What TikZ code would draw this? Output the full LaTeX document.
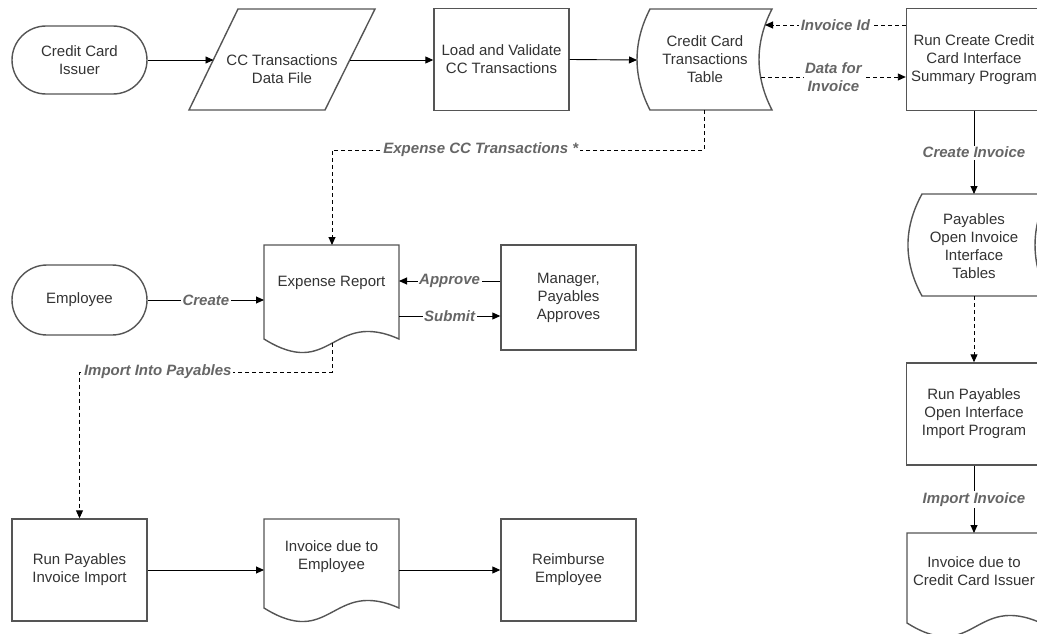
\documentclass[tikz,border=0pt]{standalone}
\usepackage{fontspec}
\setmainfont{Liberation Sans}
\usetikzlibrary{arrows.meta,shapes.misc}
\definecolor{boxline}{HTML}{555555}
\definecolor{txtgray}{HTML}{333333}
\definecolor{lblgray}{HTML}{666666}
\begin{document}
\begin{tikzpicture}[x=1pt,y=-1pt,
  font=\fontsize{15}{18}\selectfont,
  shp/.style={draw=boxline,line width=1.4pt,fill=white},
  procbox/.style={shp,rectangle,minimum width=135pt,minimum height=102pt,align=center,text=txtgray,inner sep=0pt},
  termbox/.style={shp,rounded rectangle,minimum width=135pt,minimum height=70pt,align=center,text=txtgray,inner sep=0pt},
  txtnode/.style={align=center,text=txtgray,inner sep=0pt},
  conn/.style={draw=black,line width=0.9pt,-{Triangle[length=8pt,width=7pt]}},
  dconn/.style={conn,dash pattern=on 4pt off 3pt},
  lab/.style={fill=white,text=lblgray,font=\fontsize{15}{18}\selectfont\bfseries\itshape,inner sep=1.5pt,align=center},
]
\useasboundingbox (0,0) rectangle (1037,634);
\clip (0,0) rectangle (1037,634);

% ---------- top row ----------
\node[termbox,minimum height=68pt] (issuer) at (79.5,60) {Credit Card\\Issuer};

\draw[shp] (238,9) -- (375,9) -- (325,110) -- (189,110) -- cycle;
\node[txtnode] (datafile) at (282,69) {CC Transactions\\Data File};
\coordinate (dfin) at (213.5,60);
\coordinate (dfout) at (350,60);

\node[procbox] (load) at (501.5,59.5) {Load and Validate\\CC Transactions};

\draw[shp] (650,9) -- (772,9) .. controls (754.7,42.7) and (754.7,76.3) .. (772,110)
  -- (650,110) .. controls (632.7,76.3) and (632.7,42.7) .. (650,9) -- cycle;
\node[txtnode] (cctable) at (705,59.5) {Credit Card\\Transactions\\Table};
\coordinate (tabin) at (637,60);
\coordinate (tabbot) at (704,110);
\coordinate (tabid) at (765,25);
\coordinate (tabdata) at (761,77);

\node[procbox] (runcreate) at (974,59.5) {Run Create Credit\\Card Interface\\Summary Program};

% ---------- right column ----------
\draw[shp] (922,194) -- (1048,194) .. controls (1030.7,228) and (1030.7,262) .. (1048,296)
  -- (922,296) .. controls (903.3,262) and (903.3,228) .. (922,194) -- cycle;
\node[txtnode] (paytab) at (974,246) {Payables\\Open Invoice\\Interface\\Tables};
\coordinate (paytop) at (974,194);
\coordinate (paybot) at (974,296);

\node[procbox] (runimport) at (974,414) {Run Payables\\Open Interface\\Import Program};

\draw[shp] (907,623) -- (907,533) -- (1041,533) -- (1041,623)
  .. controls (974,593) and (974,665) .. (907,623) -- cycle;
\node[txtnode] (invcc) at (974,571) {Invoice due to\\Credit Card Issuer};
\coordinate (invcctop) at (974,533);

% ---------- middle ----------
\node[termbox] (employee) at (79.5,300) {Employee};

\draw[shp] (264,339) -- (264,245) -- (399,245) -- (399,339)
  .. controls (331.5,309) and (331.5,381) .. (264,339) -- cycle;
\node[txtnode] (expense) at (331.5,283) {Expense Report};
\coordinate (exptop) at (332,245);
\coordinate (expbot) at (332,343);
\coordinate (expw) at (264,300);
\coordinate (expe1) at (399,281);
\coordinate (expe2) at (399,316);

\node[procbox,minimum height=105pt] (manager) at (568.5,297.5) {Manager,\\Payables\\Approves};

% ---------- bottom row ----------
\node[procbox] (runinv) at (79.5,570) {Run Payables\\Invoice Import};

\draw[shp] (264,608) -- (264,519) -- (399,519) -- (399,608)
  .. controls (331.5,578) and (331.5,650) .. (264,608) -- cycle;
\node[txtnode] (invemp) at (331.5,557) {Invoice due to\\Employee};
\coordinate (invempw) at (264,570);
\coordinate (invempe) at (399,570);

\node[procbox] (reimb) at (568.5,570) {Reimburse\\Employee};

% ---------- connectors ----------
\draw[conn] (issuer.east) -- (dfin);
\draw[conn] (dfout) -- (load.west |- dfout);
\draw[conn] (load.east) -- (tabin);

\draw[dconn] (runcreate.west |- tabid) -- node[lab]{Invoice Id} (tabid);
\draw[dconn] (tabdata) -- node[lab]{Data for\\Invoice} (runcreate.west |- tabdata);

\draw[dconn] (tabbot) -- (704,150) -- node[lab,pos=0.6]{Expense CC Transactions *} (332,150) -- (exptop);

\draw[conn] (runcreate.south) -- node[lab]{Create Invoice} (paytop);
\draw[dconn] (paybot) -- (runimport.north);
\draw[conn] (runimport.south) -- node[lab]{Import Invoice} (invcctop);

\draw[conn] (employee.east) -- node[lab]{Create} (expw);
\draw[conn] (manager.west |- expe1) -- node[lab]{Approve} (expe1);
\draw[conn] (expe2) -- node[lab]{Submit} (manager.west |- expe2);

\draw[dconn] (expbot) -- (332,372) -- node[lab,pos=0.69]{Import Into Payables} (79.5,372) -- (runinv.north);

\draw[conn] (runinv.east) -- (invempw);
\draw[conn] (invempe) -- (reimb.west);
\end{tikzpicture}
\end{document}
